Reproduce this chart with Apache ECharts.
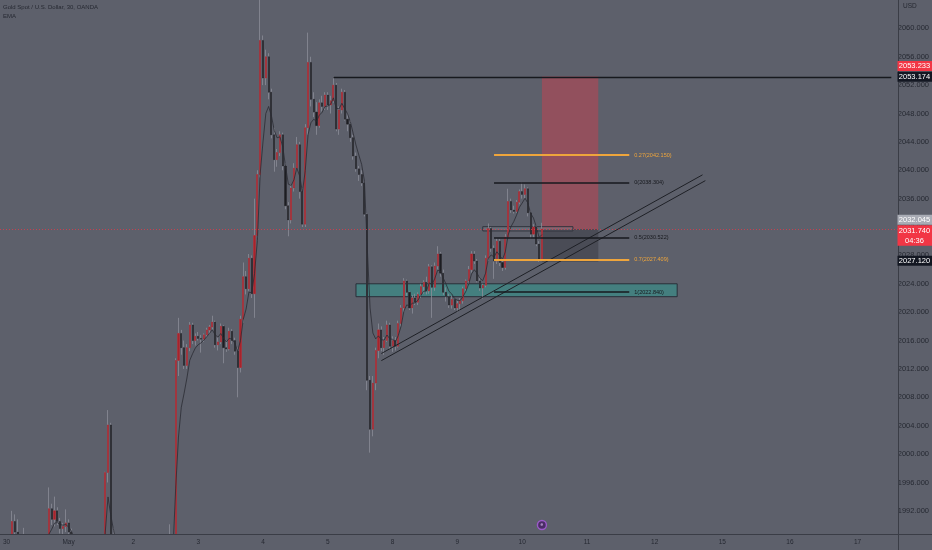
<!DOCTYPE html>
<html>
<head>
<meta charset="utf-8">
<title>Gold Spot / U.S. Dollar, 30, OANDA</title>
<script src="https://cdn.jsdelivr.net/npm/echarts@6/dist/echarts.min.js"></script>
<style>
  html, body { margin: 0; padding: 0; background: #5d606b; }
  #chart { width: 932px; height: 550px; }
</style>
</head>
<body>
<div id="chart"></div>
<script>
// x axis: one slot per hour, day labels at the first slot of each day
const dayLabels = ['30', 'May', '2', '3', '4', '5', '8', '9', '10', '11', '12', '15', '16', '17']
const dayBars = [22, 23, 23, 23, 23, 23, 23, 23, 23, 24, 24, 24, 24, 13]

// hourly candles: [open, high, low, close]
const bars = [
  [1986.0, 1987.5, 1985.0, 1986.5], [1986.5, 1988.2, 1985.5, 1987.0], [1987.0, 1992.0, 1986.2, 1990.5],
  [1990.5, 1991.5, 1988.0, 1989.0], [1989.0, 1990.8, 1986.0, 1987.0], [1987.0, 1987.8, 1985.5, 1986.5],
  [1986.5, 1989.6, 1985.0, 1987.0], [1987.0, 1987.6, 1985.2, 1985.8], [1985.8, 1987.0, 1984.6, 1986.4],
  [1986.4, 1987.4, 1985.0, 1985.5], [1985.5, 1986.8, 1984.2, 1986.0], [1986.0, 1987.9, 1985.4, 1987.2],
  [1987.2, 1988.0, 1985.8, 1986.3], [1986.3, 1987.5, 1985.6, 1987.0], [1987.0, 1988.3, 1986.4, 1987.4],
  [1987.4, 1995.3, 1986.8, 1992.3], [1992.3, 1993.0, 1990.0, 1990.8], [1990.8, 1994.0, 1989.8, 1992.0],
  [1992.0, 1992.5, 1990.0, 1990.5], [1990.5, 1991.0, 1988.8, 1989.5], [1989.5, 1990.3, 1988.5, 1989.8],
  [1989.8, 1992.2, 1989.0, 1990.3], [1990.3, 1990.8, 1988.0, 1989.0], [1989.0, 1989.5, 1987.0, 1988.0],
  [1988.0, 1988.4, 1985.6, 1986.0], [1986.0, 1987.2, 1984.8, 1985.2], [1985.2, 1986.5, 1983.6, 1984.4],
  [1984.4, 1985.8, 1983.0, 1985.0], [1985.0, 1986.6, 1984.2, 1984.8], [1984.8, 1985.4, 1982.5, 1983.2],
  [1983.2, 1984.6, 1981.8, 1984.0], [1984.0, 1985.9, 1983.4, 1985.3], [1985.3, 1986.4, 1984.0, 1984.6],
  [1984.6, 1985.7, 1983.1, 1983.9], [1983.9, 1986.2, 1983.5, 1985.0], [1985.0, 1997.5, 1984.0, 1997.4],
  [1997.4, 2006.2, 1996.0, 2004.1], [2004.1, 2004.4, 1984.5, 1986.0], [1986.0, 1989.6, 1983.0, 1985.0],
  [1985.0, 1986.0, 1982.4, 1983.0], [1983.0, 1984.5, 1981.2, 1982.0], [1982.0, 1983.6, 1980.6, 1983.1],
  [1983.1, 1984.2, 1981.8, 1982.4], [1982.4, 1983.0, 1980.0, 1980.8], [1980.8, 1982.6, 1979.6, 1982.0],
  [1982.0, 1983.8, 1981.0, 1983.2], [1983.2, 1984.5, 1982.2, 1982.8], [1982.8, 1984.0, 1981.5, 1983.6],
  [1983.6, 1985.2, 1982.8, 1984.5], [1984.5, 1985.6, 1983.0, 1983.6], [1983.6, 1984.8, 1982.2, 1984.2],
  [1984.2, 1986.0, 1983.6, 1985.4], [1985.4, 1986.5, 1984.0, 1984.8], [1984.8, 1985.9, 1983.3, 1985.5],
  [1985.5, 1987.0, 1984.6, 1986.2], [1986.2, 1987.4, 1985.0, 1985.6], [1985.6, 1986.8, 1984.4, 1986.0],
  [1986.0, 1987.2, 1984.9, 1985.4], [1985.4, 1990.1, 1984.8, 1986.2], [1986.2, 1987.8, 1985.0, 1986.6],
  [1986.6, 2013.5, 1985.5, 2013.2], [2013.2, 2019.2, 2011.0, 2017.0], [2017.0, 2017.5, 2014.0, 2015.0],
  [2015.0, 2016.0, 2012.0, 2012.5], [2012.5, 2015.5, 2012.0, 2015.0], [2015.0, 2018.6, 2014.5, 2018.2],
  [2018.2, 2018.5, 2015.5, 2016.0], [2016.0, 2017.0, 2015.3, 2016.6], [2016.6, 2017.2, 2016.0, 2016.3],
  [2016.3, 2016.8, 2014.3, 2016.2], [2016.2, 2017.0, 2015.8, 2016.8], [2016.8, 2017.8, 2016.5, 2017.5],
  [2017.5, 2018.2, 2016.9, 2017.9], [2017.9, 2019.5, 2017.5, 2018.6], [2018.6, 2018.8, 2015.0, 2015.4],
  [2015.4, 2016.5, 2014.6, 2015.8], [2015.8, 2018.4, 2015.5, 2018.0], [2018.0, 2018.2, 2012.8, 2015.0],
  [2015.0, 2016.0, 2014.4, 2014.8], [2014.8, 2017.8, 2014.6, 2017.3], [2017.3, 2017.6, 2015.5, 2016.0],
  [2016.0, 2016.4, 2014.0, 2014.5], [2014.5, 2015.0, 2008.0, 2012.2], [2012.2, 2019.5, 2011.5, 2019.0],
  [2019.0, 2027.0, 2018.5, 2025.0], [2025.0, 2025.8, 2022.5, 2023.3], [2023.3, 2028.2, 2023.0, 2027.6],
  [2027.6, 2028.0, 2022.0, 2022.6], [2022.6, 2036.0, 2019.2, 2030.8], [2030.8, 2040.0, 2030.5, 2039.4],
  [2039.4, 2067.0, 2039.0, 2058.3], [2058.3, 2059.0, 2052.0, 2053.0], [2053.0, 2057.0, 2052.0, 2056.0],
  [2056.0, 2056.5, 2050.0, 2051.0], [2051.0, 2051.5, 2044.5, 2045.0], [2045.0, 2046.0, 2039.8, 2041.5],
  [2041.5, 2043.0, 2040.5, 2042.5], [2042.5, 2045.5, 2042.0, 2045.0], [2045.0, 2045.3, 2040.0, 2040.6],
  [2040.6, 2041.0, 2034.5, 2035.0], [2035.0, 2035.5, 2030.7, 2033.0], [2033.0, 2038.0, 2032.5, 2037.5],
  [2037.5, 2041.0, 2037.0, 2040.3], [2040.3, 2044.7, 2040.0, 2043.6], [2043.6, 2044.0, 2036.0, 2037.0],
  [2037.0, 2037.5, 2032.0, 2032.4], [2032.4, 2046.5, 2032.0, 2046.0], [2046.0, 2059.4, 2045.0, 2055.2],
  [2055.2, 2056.0, 2049.0, 2050.0], [2050.0, 2051.0, 2047.5, 2048.2], [2048.2, 2049.6, 2045.0, 2046.3],
  [2046.3, 2050.0, 2046.0, 2049.5], [2049.5, 2050.5, 2048.3, 2049.0], [2049.0, 2051.0, 2048.5, 2050.6],
  [2050.6, 2051.0, 2048.5, 2049.2], [2049.2, 2050.5, 2048.0, 2049.8], [2049.8, 2053.2, 2049.5, 2052.0],
  [2052.0, 2052.3, 2045.5, 2045.8], [2045.8, 2049.0, 2045.0, 2048.5], [2048.5, 2051.5, 2048.0, 2051.0],
  [2051.0, 2051.3, 2047.0, 2047.2], [2047.2, 2048.0, 2045.5, 2046.5], [2046.5, 2047.0, 2044.0, 2044.6],
  [2044.6, 2045.0, 2041.5, 2042.0], [2042.0, 2042.5, 2039.8, 2040.2], [2040.2, 2040.6, 2038.5, 2039.4],
  [2039.4, 2040.0, 2037.8, 2038.2], [2038.2, 2038.5, 2033.5, 2033.8], [2033.8, 2034.0, 2009.0, 2010.4],
  [2010.4, 2011.0, 2000.2, 2003.5], [2003.5, 2011.0, 2002.5, 2010.0], [2010.0, 2015.0, 2009.0, 2014.6],
  [2014.6, 2018.4, 2013.5, 2017.5], [2017.5, 2018.0, 2014.5, 2015.0], [2015.0, 2016.5, 2014.0, 2016.0],
  [2016.0, 2018.8, 2015.8, 2018.2], [2018.2, 2018.5, 2014.8, 2015.2], [2015.2, 2016.6, 2014.4, 2016.0],
  [2016.0, 2016.5, 2014.6, 2015.2], [2015.2, 2018.8, 2015.0, 2018.4], [2018.4, 2021.0, 2018.0, 2020.6],
  [2020.6, 2024.8, 2020.0, 2024.4], [2024.4, 2024.6, 2022.3, 2022.8], [2022.8, 2023.0, 2020.3, 2020.6],
  [2020.6, 2022.4, 2019.8, 2022.0], [2022.0, 2022.6, 2021.0, 2021.4], [2021.4, 2022.8, 2021.0, 2022.5],
  [2022.5, 2024.0, 2022.0, 2023.6], [2023.6, 2024.5, 2022.6, 2024.2], [2024.2, 2025.0, 2022.5, 2023.0],
  [2023.0, 2026.8, 2022.6, 2026.4], [2026.4, 2026.6, 2019.2, 2023.5], [2023.5, 2027.0, 2023.0, 2026.5],
  [2026.5, 2029.3, 2026.0, 2028.2], [2028.2, 2028.5, 2025.0, 2025.5], [2025.5, 2026.0, 2022.4, 2022.8],
  [2022.8, 2023.5, 2021.5, 2022.2], [2022.2, 2022.6, 2020.6, 2021.0], [2021.0, 2022.3, 2020.5, 2021.8],
  [2021.8, 2022.0, 2020.3, 2020.6], [2020.6, 2021.6, 2020.0, 2021.2], [2021.2, 2022.0, 2020.2, 2021.6],
  [2021.6, 2023.6, 2021.2, 2023.3], [2023.3, 2024.6, 2023.0, 2024.4], [2024.4, 2026.5, 2024.0, 2026.0],
  [2026.0, 2028.6, 2025.6, 2028.2], [2028.2, 2028.6, 2026.8, 2027.2], [2027.2, 2027.5, 2024.2, 2024.4],
  [2024.4, 2025.0, 2023.0, 2023.4], [2023.4, 2024.0, 2021.9, 2023.8], [2023.8, 2028.0, 2023.5, 2027.6],
  [2027.6, 2032.5, 2027.2, 2031.8], [2031.8, 2032.0, 2028.5, 2029.0], [2029.0, 2029.4, 2024.7, 2027.2],
  [2027.2, 2030.4, 2026.8, 2030.0], [2030.0, 2030.3, 2026.5, 2027.0], [2027.0, 2027.3, 2025.8, 2026.3],
  [2026.3, 2031.0, 2026.0, 2030.6], [2030.6, 2037.4, 2030.3, 2035.6], [2035.6, 2036.0, 2034.0, 2034.4],
  [2034.4, 2035.0, 2033.9, 2034.2], [2034.2, 2035.8, 2034.0, 2035.5], [2035.5, 2037.3, 2035.2, 2037.0],
  [2037.0, 2038.3, 2036.0, 2036.6], [2036.6, 2038.0, 2036.0, 2037.4], [2037.4, 2037.6, 2033.5, 2034.0],
  [2034.0, 2034.3, 2030.4, 2031.0], [2031.0, 2032.4, 2030.5, 2032.0], [2032.0, 2032.2, 2029.3, 2029.6],
  [2029.6, 2030.0, 2027.1, 2027.5], [2027.5, 2032.6, 2027.3, 2031.74]
]
const emaLength = 5

// drawings, in [slot, price]
const fibRatios = ['0.27', '0', '0.5', '0.7', '1']
const fibPrices = [2042.150, 2038.304, 2030.522, 2027.409, 2022.840]
const fibSlots = [173, 221]
const channelUpper = [[133, 2014.17], [247, 2039.36]]
const channelLower = [[133, 2013.17], [248, 2038.54]]
const demandZone = [[124, 2024.0], [238, 2022.18]]
const entryZone = [[169, 2032.05], [201, 2031.45]]
const resistance = [[116, 2053.174], [314, 2053.174]]
const positionSlots = [190, 210]
const positionPrices = [2053.233, 2031.74, 2027.12] // stop, entry, target
const lastPrice = 2031.74

// price tags on the right scale
const tagTexts = ['2053.233', '2053.174', '2032.045', '2031.740\n04:36', '2027.120']
const tagPrices = [2053.233, 2053.174, 2032.045, 2031.74, 2027.12]
const tagColors = ['#f23645', '#131722', '#a9acb5', '#f23645', '#131722']

const BG = '#5d606b'
const TEXT = '#262932'
const FONT = "'Liberation Sans Narrow', 'Liberation Sans', sans-serif"
const ORANGE = '#eea53c'
const DARK = '#17191e'

/* --------- build the axis & series inputs ----------- */
const categories = []
const dayStart = {}
dayLabels.forEach((label, d) => {
    for (let h = 0; h < dayBars[d]; h++) {
        const key = label + '-' + h
        categories.push(key)
        if (h === 0) dayStart[key] = label
    }
})

const candleData = bars.map(b => [b[0], b[3], b[2], b[1]])
const bodyData = bars.map(b => [b[0], b[3], Math.min(b[0], b[3]), Math.max(b[0], b[3])])

const ema = []
const k = 2 / (emaLength + 1)
bars.forEach((b, i) => {
    ema.push(i === 0 ? b[3] : ema[i - 1] + k * (b[3] - ema[i - 1]))
})

const seg = (pts, color, width, extra) => [
    { coord: pts[0], lineStyle: Object.assign({ color, width, type: 'solid' }, extra || {}) },
    { coord: pts[1] }
]

const fibLines = fibPrices.map((p, i) => {
    const orange = i === 0 || i === 3
    const color = orange ? ORANGE : DARK
    return [
        {
            coord: [fibSlots[0], p],
            lineStyle: { color, width: orange ? 2 : 1.5, type: 'solid' },
            label: {
                show: true, position: 'end', distance: 5,
                formatter: fibRatios[i] + '(' + p.toFixed(3) + ')',
                color: orange ? ORANGE : DARK, fontSize: 5.5, fontFamily: FONT
            }
        },
        { coord: [fibSlots[1], p] }
    ]
})

const box = (a, b, fill, border) => [
    { coord: a, itemStyle: { color: fill, borderColor: border || 'transparent', borderWidth: border ? 1 : 0 } },
    { coord: b }
]

const chart = echarts.init(document.getElementById('chart'))

chart.setOption({
    backgroundColor: BG,
    animation: false,
    grid: { left: 0, right: 34, top: -2.7, bottom: 10.8 },
    xAxis: {
        type: 'category',
        data: categories,
        boundaryGap: true,
        z: 60,
        axisLine: { show: false },
        axisTick: { show: false },
        splitLine: { show: false },
        axisLabel: {
            interval: 0, margin: 0, color: TEXT, fontSize: 6.5, fontFamily: FONT,
            formatter: v => dayStart[v] || ''
        }
    },
    yAxis: {
        type: 'value',
        position: 'right',
        min: 1988,
        max: 2064,
        interval: 4,
        scale: true,
        axisLine: { show: false },
        axisTick: { show: false },
        splitLine: { show: false },
        axisLabel: {
            margin: 5, color: TEXT, fontSize: 7.5, fontFamily: FONT,
            formatter: v => (v <= 1988 || v >= 2064) ? '' : v.toFixed(3)
        }
    },
    series: [
        {
            // wicks
            type: 'candlestick',
            data: candleData,
            barWidth: 1.6,
            itemStyle: {
                color: 'rgba(0,0,0,0)', color0: 'rgba(0,0,0,0)',
                borderColor: '#8a8d97', borderColor0: '#8a8d97', borderWidth: 0.8
            },
            z: 2
        },
        {
            // bodies
            type: 'candlestick',
            data: bodyData,
            barWidth: 1.6,
            itemStyle: {
                color: '#a8232b', color0: '#1c1d22',
                borderColor: '#a8232b', borderColor0: '#1c1d22', borderWidth: 0.6
            },
            z: 2
        },
        {
            name: 'EMA',
            type: 'line',
            data: ema,
            symbol: 'none',
            lineStyle: { color: '#2a2c33', width: 1, opacity: 0.8 },
            z: 3
        },
        {
            // chart drawings
            type: 'line',
            data: [],
            z: 4,
            markLine: {
                silent: true,
                symbol: ['none', 'none'],
                label: { show: false },
                data: [
                    [{ yAxis: lastPrice, x: 0, lineStyle: { color: '#f23645', width: 1, type: [1, 2], opacity: 0.7 } },
                     { yAxis: lastPrice, x: 898 }],
                    seg(resistance, DARK, 1.3),
                    seg(channelUpper, '#1e2026', 1),
                    seg(channelLower, '#1e2026', 1)
                ].concat(fibLines)
            },
            markArea: {
                silent: true,
                data: [
                    box([positionSlots[0], positionPrices[0]], [positionSlots[1], positionPrices[1]], 'rgba(242,54,69,0.36)'),
                    box([positionSlots[0], positionPrices[1]], [positionSlots[1], positionPrices[2]], 'rgba(25,26,32,0.28)'),
                    box(demandZone[0], demandZone[1], 'rgba(38,166,154,0.45)', '#2a2e39'),
                    box(entryZone[0], entryZone[1], 'rgba(130,133,143,0.35)', '#30333c')
                ]
            }
        }
    ]
})

/* --------- overlay: frame, header, price tags ----------- */
const g = []
g.push({ type: 'rect', z: 50, shape: { x: 0, y: 534.5, width: 898, height: 16 }, style: { fill: BG } })
g.push({ type: 'line', z: 51, shape: { x1: 0, y1: 534.5, x2: 932, y2: 534.5 }, style: { stroke: '#3a3d46', lineWidth: 1 } })
g.push({ type: 'line', z: 51, shape: { x1: 898.5, y1: 0, x2: 898.5, y2: 550 }, style: { stroke: '#3a3d46', lineWidth: 1 } })
g.push({ type: 'text', z: 52, x: 3, y: 4.5, style: { text: 'Gold Spot / U.S. Dollar, 30, OANDA', fill: TEXT, fontSize: 6, fontFamily: FONT } })
g.push({ type: 'text', z: 52, x: 3, y: 13.5, style: { text: 'EMA', fill: TEXT, fontSize: 6, fontFamily: FONT } })
g.push({ type: 'text', z: 52, x: 903, y: 3, style: { text: 'USD', fill: TEXT, fontSize: 6.5, fontFamily: FONT } })

const tagShift = [-10.5, 0, -7, 0, -1]
tagPrices.forEach((p, i) => {
    const y = chart.convertToPixel({ yAxisIndex: 0 }, p) + tagShift[i]
    const twoLine = tagTexts[i].indexOf('\n') >= 0
    const top = twoLine ? y - 3.6 : y - 5
    const h = twoLine ? 20.5 : 10
    g.push({ type: 'rect', z: 70, shape: { x: 897.5, y: top, width: 35, height: h }, style: { fill: tagColors[i] } })
    g.push({
        type: 'text', z: 71, x: 914.5, y: top + h / 2,
        style: {
            text: tagTexts[i], fill: '#ffffff', fontSize: 7.5, fontFamily: FONT,
            align: 'center', verticalAlign: 'middle', lineHeight: 10
        }
    })
})

// event marker under the last bar
const ex = chart.convertToPixel({ xAxisIndex: 0 }, bars.length - 1)
g.push({ type: 'circle', z: 72, shape: { cx: ex, cy: 525, r: 4.5 }, style: { fill: '#4b2d66', stroke: '#9b59c9', lineWidth: 1.4 } })
g.push({ type: 'text', z: 73, x: ex, y: 525, style: { text: 'e', fill: '#d7b8f0', fontSize: 5, align: 'center', verticalAlign: 'middle', fontFamily: FONT } })

chart.setOption({ graphic: g })
</script>
</body>
</html>
